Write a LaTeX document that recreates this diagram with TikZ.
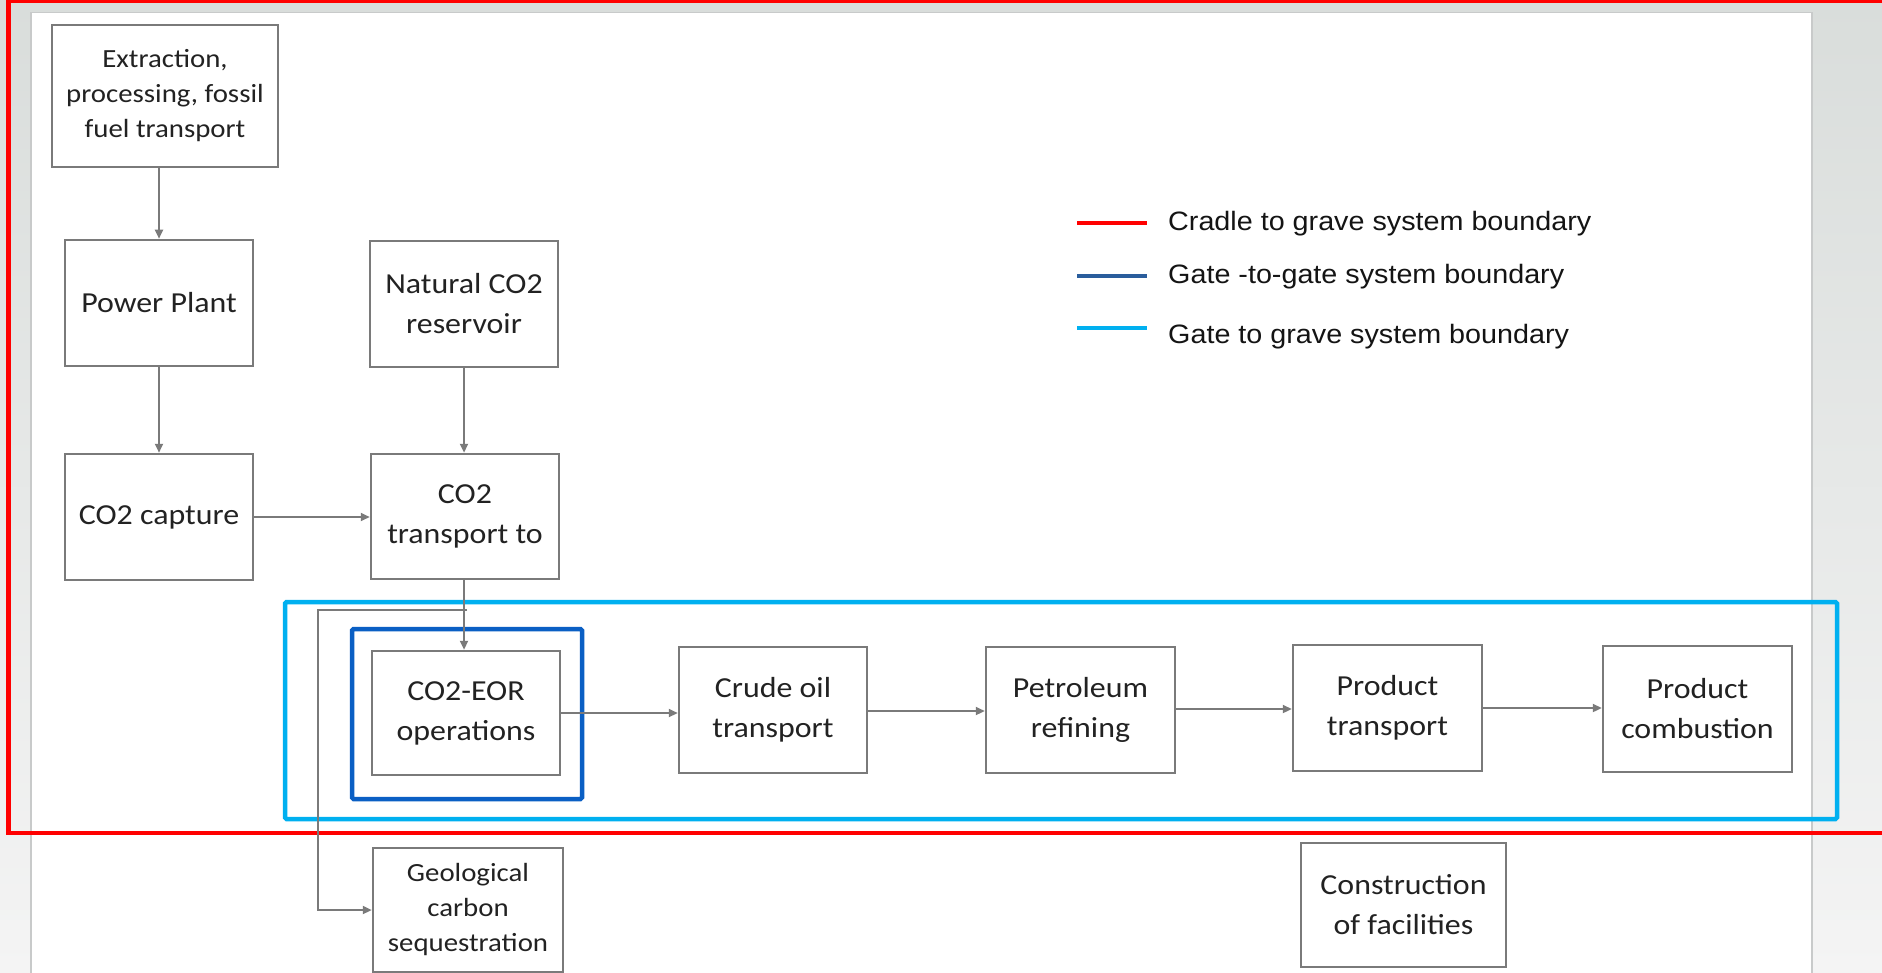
\documentclass[tikz,border=0pt]{standalone}
\usepackage{fontspec}
\setmainfont{Carlito}
\newfontfamily\boxfont[FakeStretch=1.1]{Carlito}
\newfontfamily\legfont[FakeStretch=1.08]{Liberation Sans}
\usetikzlibrary{arrows.meta}
\definecolor{bggray}{HTML}{D9DDDB}
\definecolor{bglight}{HTML}{F4F4F4}
\definecolor{boxgray}{HTML}{7A7A7A}
\definecolor{txt}{HTML}{222222}
\definecolor{cradle}{HTML}{FF0000}
\definecolor{gtg}{HTML}{0A5FC4}
\definecolor{gtglegend}{HTML}{2A5D9C}
\definecolor{gtograve}{HTML}{00B0F0}
\definecolor{panelborder}{HTML}{C8CACA}
\tikzset{
  procbox/.style={draw=boxgray, line width=2.5pt, fill=white, minimum width=188pt,
    minimum height=126pt, inner sep=0pt, align=center, text=txt,
    font=\boxfont\fontsize{29}{40}\selectfont},
  smallbox/.style={procbox, font=\boxfont\fontsize{26.2}{35}\selectfont},
  arr/.style={draw=boxgray, line width=2.2pt, -{Triangle[length=9pt,width=8pt]}},
  boundary/.style={line width=4.5pt},
  legline/.style={line width=4.5pt},
  legtext/.style={anchor=base west, inner sep=0pt,
    font=\legfont\fontsize{26.6}{30}\selectfont, text=black!92}
}
\begin{document}
\begin{tikzpicture}[x=1pt,y=-1pt]
\useasboundingbox (0,0) rectangle (1882,973);
\clip (0,0) rectangle (1882,973);
% background and panel
\shade[top color=bggray, bottom color=bglight] (0,0) rectangle (1882,973);
\fill[white] (31,12.7) rectangle (1812,990);
\draw[panelborder, line width=1.2pt] (31,990) -- (31,12.7) -- (1812,12.7) -- (1812,990);

% system boundaries
\draw[boundary, cradle] (8.5,1) rectangle (1900,833);
\draw[boundary, gtograve, rounded corners=1.5pt] (285,602) rectangle (1837,819);
\draw[boundary, gtg, rounded corners=1.5pt] (352,629) rectangle (582,799);

% process boxes
\node[smallbox, minimum width=226pt, minimum height=142pt] (ext) at (165,96)
  {Extraction,\\processing, fossil\\fuel transport};
\node[procbox] (pp) at (159,303) {Power Plant};
\node[procbox] (nat) at (464,304) {Natural CO2\\reservoir};
\node[procbox] (cap) at (159,517) {CO2 capture};
\node[procbox, minimum height=125pt] (trans) at (465,516.5) {CO2\\transport to};
\node[procbox, minimum height=124pt] (eor) at (466,713) {CO2-EOR\\operations};
\node[procbox] (crude) at (773,710) {Crude oil\\transport};
\node[procbox, minimum width=189pt] (refin) at (1080.5,710) {Petroleum\\refining};
\node[procbox, minimum width=189pt] (ptrans) at (1387.5,708) {Product\\transport};
\node[procbox, minimum width=189pt] (comb) at (1697.5,709) {Product\\combustion};
\node[smallbox, minimum width=190pt, minimum height=124pt] (geo) at (468,910)
  {Geological\\carbon\\sequestration};
\node[procbox, minimum width=205pt, minimum height=124pt] (constr) at (1403.5,905)
  {Construction\\of facilities};

% connectors
\draw[arr] (ext.south -| pp.north) -- (pp.north);
\draw[arr] (pp.south) -- (cap.north);
\draw[arr] (nat.south) -- (nat.south |- trans.north);
\draw[arr] (cap.east) -- (cap.east -| trans.west);
\draw[arr] (trans.south -| 464,0) -- (eor.north -| 464,0);
\coordinate (brA) at (467,610);
\coordinate (brB) at (318,610);
\draw[arr] (brA) -- (brB) |- (geo.west);
\draw[arr] (eor.east) -- (eor.east -| crude.west);
\draw[arr] (crude.east |- 0,711) -- (refin.west |- 0,711);
\draw[arr] (refin.east |- 0,709) -- (ptrans.west |- 0,709);
\draw[arr] (ptrans.east |- 0,708) -- (comb.west |- 0,708);

% legend
\draw[legline, cradle] (1077,223) -- (1147,223);
\draw[legline, gtglegend] (1077,276) -- (1147,276);
\draw[legline, gtograve] (1077,328) -- (1147,328);
\node[legtext] (legA) at (1168,231) {Cradle to grave system boundary};
\node[legtext] (legB) at (1168,284) {Gate -to-gate system boundary};
\node[legtext] (legC) at (1168,344) {Gate to grave system boundary};
\end{tikzpicture}
\end{document}
